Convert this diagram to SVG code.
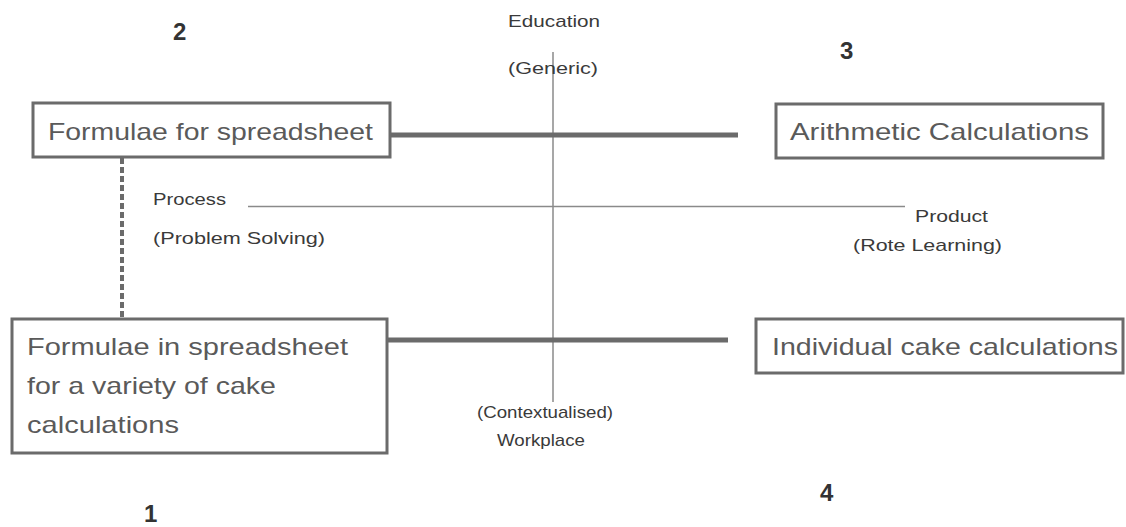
<svg xmlns="http://www.w3.org/2000/svg" width="1126" height="527" viewBox="0 0 1126 527">
  <style>
    .box { fill: #ffffff; stroke: #6b6b6b; stroke-width: 3; }
    .boxtext { font-family: "Liberation Sans", Arial, sans-serif; font-size: 24px; fill: #5a5a5a; }
    .axis { stroke: #8a8a8a; stroke-width: 1.5; fill: none; }
    .link { stroke: #6b6b6b; stroke-width: 5; fill: none; }
    .dash { stroke: #6b6b6b; stroke-width: 4; stroke-dasharray: 6 3; fill: none; }
    .label { font-family: "Liberation Sans", Arial, sans-serif; font-size: 17px; fill: #3a3a3a; }
    .num { font-family: "Liberation Sans", Arial, sans-serif; font-size: 24px; font-weight: bold; fill: #333333; }
  </style>

  <rect width="1126" height="527" fill="#ffffff"/>

  <!-- quadrant axes and axis labels -->
  <g id="axes">
    <line class="axis" x1="553" y1="52" x2="553" y2="402"/>
    <line class="axis" x1="248" y1="206.5" x2="905" y2="206.5"/>
    <text class="label" x="508" y="27" textLength="92" lengthAdjust="spacingAndGlyphs">Education</text>
    <text class="label" x="508" y="74" textLength="90" lengthAdjust="spacingAndGlyphs">(Generic)</text>
    <text class="label" x="153" y="205" textLength="73" lengthAdjust="spacingAndGlyphs">Process</text>
    <text class="label" x="153" y="244" textLength="172" lengthAdjust="spacingAndGlyphs">(Problem Solving)</text>
    <text class="label" x="915" y="222" textLength="73" lengthAdjust="spacingAndGlyphs">Product</text>
    <text class="label" x="853" y="251" textLength="149" lengthAdjust="spacingAndGlyphs">(Rote Learning)</text>
    <text class="label" x="477" y="418" font-size="15" textLength="136" lengthAdjust="spacingAndGlyphs">(Contextualised)</text>
    <text class="label" x="497" y="446" font-size="15" fill="#777" textLength="88" lengthAdjust="spacingAndGlyphs">Workplace</text>
  </g>

  <!-- connectors between quadrant boxes -->
  <g id="connectors">
    <line class="link" x1="390" y1="135" x2="738" y2="135"/>
    <line class="link" x1="387" y1="340" x2="728" y2="340"/>
    <line class="dash" x1="122" y1="158" x2="122" y2="318"/>
  </g>

  <g id="node-2">
    <rect class="box" x="33" y="103" width="357" height="54"/>
    <text class="boxtext" x="48" y="140" textLength="325" lengthAdjust="spacingAndGlyphs">Formulae for spreadsheet</text>
  </g>

  <g id="node-3">
    <rect class="box" x="776" y="104" width="327" height="54"/>
    <text class="boxtext" x="790" y="140" textLength="299" lengthAdjust="spacingAndGlyphs">Arithmetic Calculations</text>
  </g>

  <g id="node-1">
    <rect class="box" x="12" y="319" width="375" height="134"/>
    <text class="boxtext" x="27" y="355" textLength="321" lengthAdjust="spacingAndGlyphs">Formulae  in spreadsheet</text>
    <text class="boxtext" x="27" y="394" textLength="249" lengthAdjust="spacingAndGlyphs">for a variety of cake</text>
    <text class="boxtext" x="27" y="433" textLength="152" lengthAdjust="spacingAndGlyphs">calculations</text>
  </g>

  <g id="node-4">
    <rect class="box" x="756" y="319" width="367" height="54"/>
    <text class="boxtext" x="772" y="355" textLength="346" lengthAdjust="spacingAndGlyphs">Individual cake calculations</text>
  </g>

  <!-- quadrant numbers -->
  <g id="numbers">
    <text class="num" x="173" y="40">2</text>
    <text class="num" x="840" y="59">3</text>
    <text class="num" x="144" y="522">1</text>
    <text class="num" x="820" y="501">4</text>
  </g>
</svg>
